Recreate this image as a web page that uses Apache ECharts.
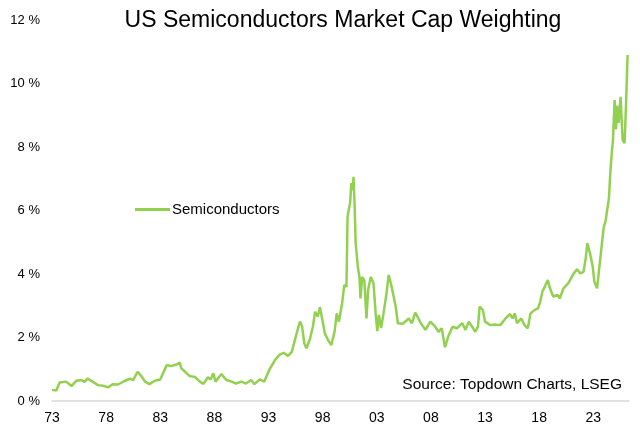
<!DOCTYPE html>
<html>
<head>
<meta charset="utf-8">
<script src="https://cdn.jsdelivr.net/npm/echarts@6/dist/echarts.min.js"></script>
<style>
html,body{margin:0;padding:0;background:#fff;}
#chart{width:640px;height:434px;}
</style>
</head>
<body>
<div id="chart"></div>
<script>
const BASE_YEAR = 1973;
const years = [
1973.0,1973.4,1973.7,1974.3,1974.8,1975.25,1975.7,1976.0,1976.3,1976.6,
1977.25,1977.7,1978.2,1978.6,1979.1,1979.7,1980.2,1980.5,1980.9,1981.2,
1981.6,1982.0,1982.5,1983.0,1983.25,1983.6,1984.0,1984.5,1984.8,1984.95,
1985.3,1985.7,1986.2,1986.65,1987.0,1987.4,1987.65,1987.9,1988.1,1988.65,
1989.1,1989.6,1990.0,1990.5,1990.9,1991.4,1991.7,1992.2,1992.6,1993.1,
1993.6,1994.0,1994.4,1994.8,1995.15,1995.6,1995.9,1996.1,1996.3,1996.5,
1996.8,1997.1,1997.3,1997.55,1997.75,1997.98,1998.2,1998.5,1998.8,1999.1,
1999.3,1999.5,1999.8,2000.0,2000.2,2000.3,2000.55,2000.65,2000.8,2000.85,
2000.95,2001.05,2001.25,2001.4,2001.5,2001.65,2001.85,2002.05,2002.2,2002.45,
2002.7,2002.9,2003.05,2003.2,2003.4,2003.6,2003.9,2004.1,2004.3,2004.5,
2004.75,2004.95,2005.4,2005.95,2006.25,2006.55,2006.85,2007.1,2007.5,2007.95,
2008.4,2008.7,2009.0,2009.3,2009.6,2010.0,2010.4,2010.9,2011.2,2011.5,
2011.9,2012.1,2012.35,2012.5,2012.8,2013.0,2013.5,2013.9,2014.4,2014.9,
2015.3,2015.55,2015.75,2015.95,2016.35,2016.65,2016.95,2017.2,2017.6,2017.9,
2018.1,2018.3,2018.55,2018.8,2019.0,2019.3,2019.7,2019.9,2020.25,2020.7,
2021.2,2021.5,2021.8,2022.1,2022.3,2022.45,2022.7,2022.95,2023.1,2023.35,
2023.5,2023.7,2023.95,2024.15,2024.3,2024.45,2024.57,2024.73,2024.82,2024.97,
2025.1,2025.19,2025.34,2025.52,2025.71,2025.89,2026.02,2026.17
];
const semiconductors = [
0.35,0.33,0.58,0.61,0.47,0.64,0.66,0.60,0.71,0.64,
0.50,0.48,0.43,0.53,0.52,0.63,0.70,0.66,0.92,0.81,
0.61,0.53,0.64,0.68,0.87,1.13,1.10,1.15,1.21,1.03,
0.92,0.79,0.76,0.61,0.54,0.75,0.68,0.87,0.61,0.85,
0.66,0.61,0.55,0.61,0.55,0.66,0.53,0.68,0.61,1.00,
1.29,1.45,1.52,1.42,1.55,2.13,2.50,2.36,1.82,1.66,
1.92,2.34,2.81,2.66,2.95,2.55,2.13,1.92,1.76,2.18,
2.76,2.50,3.08,3.65,3.60,5.80,6.28,6.86,6.65,7.06,
6.23,4.97,4.23,3.91,3.23,3.91,3.80,2.60,3.50,3.91,
3.70,2.75,2.20,2.71,2.30,2.71,3.39,3.97,3.71,3.39,
2.97,2.45,2.43,2.60,2.45,2.78,2.60,2.43,2.24,2.50,
2.34,2.18,2.29,1.69,2.03,2.34,2.29,2.45,2.24,2.50,
2.29,2.18,2.34,2.97,2.87,2.50,2.39,2.41,2.39,2.60,
2.74,2.60,2.76,2.45,2.60,2.39,2.29,2.76,2.87,2.92,
3.13,3.45,3.62,3.81,3.55,3.29,3.34,3.23,3.55,3.71,
4.02,4.15,4.02,4.07,4.49,4.97,4.65,4.23,3.76,3.55,
4.02,4.65,5.44,5.70,5.65,6.40,7.17,7.90,8.22,9.48,
8.56,9.30,8.76,9.58,8.22,8.12,9.27,10.90
];
const yTicks = [0,2,4,6,8,10,12];
const titleText = 'US Semiconductors Market Cap Weighting';
const sourceText = 'Source: Topdown Charts, LSEG';
const seriesName = 'Semiconductors';

const data = years.map((y, i) => [y - BASE_YEAR, semiconductors[i]]);
const FONT = '"Liberation Sans", Arial, sans-serif';

const chart = echarts.init(document.getElementById('chart'), null, {renderer: 'canvas'});
chart.setOption({
  animation: false,
  backgroundColor: '#ffffff',
  title: {
    text: titleText,
    left: 338,
    textAlign: 'center',
    top: 4,
    textStyle: {fontFamily: FONT, fontSize: 23, fontWeight: 'normal', color: '#000'}
  },
  legend: {
    data: [seriesName],
    left: 135,
    top: 202,
    padding: 0,
    icon: 'rect',
    itemWidth: 35,
    itemHeight: 3,
    itemGap: 0,
    textStyle: {fontFamily: FONT, fontSize: 15, color: '#000', padding: [0,0,0,-3]}
  },
  graphic: [{
    type: 'text',
    right: 18,
    top: 377,
    style: {text: sourceText, font: '15.5px ' + FONT, fill: '#000'}
  }],
  grid: {left: 52, right: 11, top: 20, bottom: 33, containLabel: false},
  xAxis: {
    type: 'value',
    min: 0,
    max: 53.3,
    interval: 5,
    axisLine: {show: true, lineStyle: {color: '#d9d9d9', width: 1.5}},
    axisTick: {show: false},
    splitLine: {show: false},
    axisLabel: {
      fontFamily: FONT, fontSize: 14, color: '#000', margin: 10,
      showMaxLabel: false,
      formatter: v => String((BASE_YEAR + Math.round(v)) % 100).padStart(2, '0')
    }
  },
  yAxis: {
    type: 'value',
    min: yTicks[0],
    max: yTicks[yTicks.length - 1],
    interval: 2,
    axisLine: {show: false},
    axisTick: {show: false},
    splitLine: {show: false},
    axisLabel: {fontFamily: FONT, fontSize: 13, color: '#000', margin: 12, formatter: '{value} %'}
  },
  series: [{
    name: seriesName,
    type: 'line',
    data: data,
    showSymbol: false,
    symbol: 'none',
    lineStyle: {color: '#92D050', width: 2.5},
    itemStyle: {color: '#92D050'}
  }]
});
</script>
</body>
</html>
